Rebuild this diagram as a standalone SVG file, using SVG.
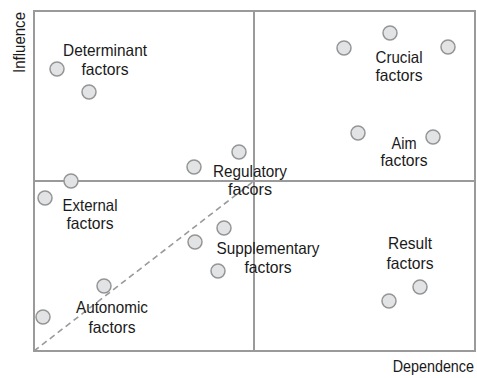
<svg xmlns="http://www.w3.org/2000/svg" width="477" height="378" viewBox="0 0 477 378">
<style>
.frame{fill:none;stroke:#9a9a9a;stroke-width:2}
.dash{fill:none;stroke:#9a9a9a;stroke-width:1.6;stroke-dasharray:6,4}
.pt{fill:#e2e3e5;stroke:#959595;stroke-width:1.5}
text{font-family:"Liberation Sans",Arial,sans-serif;font-size:16.5px;fill:#1a1a1a;text-anchor:middle}
</style>
<rect width="477" height="378" fill="#fff"/>
<g id="axes">
<rect class="frame" x="34" y="11" width="441" height="340"/>
<line class="frame" x1="254" y1="11" x2="254" y2="351"/>
<line class="frame" x1="34" y1="181" x2="475" y2="181"/>
<text transform="translate(474,372) scale(0.87,1)" style="text-anchor:end">Dependence</text>
<text transform="translate(25,73) rotate(-90)" style="text-anchor:start" textLength="61" lengthAdjust="spacingAndGlyphs">Influence</text>
</g>
<g id="connectors">
<line class="dash" x1="34" y1="351" x2="254" y2="181"/>
</g>
<g id="determinant">
<circle class="pt" cx="57" cy="69" r="7"/>
<circle class="pt" cx="89" cy="92" r="7"/>
<text x="105" y="56" textLength="84" lengthAdjust="spacingAndGlyphs">Determinant</text>
<text x="105" y="75" textLength="47" lengthAdjust="spacingAndGlyphs">factors</text>
</g>
<g id="crucial">
<circle class="pt" cx="344" cy="48" r="7"/>
<circle class="pt" cx="390" cy="33" r="7"/>
<circle class="pt" cx="448" cy="47" r="7"/>
<text x="399" y="63" textLength="47" lengthAdjust="spacingAndGlyphs">Crucial</text>
<text x="399" y="81" textLength="47" lengthAdjust="spacingAndGlyphs">factors</text>
</g>
<g id="aim">
<circle class="pt" cx="358" cy="133" r="7"/>
<circle class="pt" cx="433" cy="137" r="7"/>
<text x="404" y="149" textLength="25" lengthAdjust="spacingAndGlyphs">Aim</text>
<text x="404" y="166" textLength="47" lengthAdjust="spacingAndGlyphs">factors</text>
</g>
<g id="regulatory">
<circle class="pt" cx="194" cy="167" r="7"/>
<circle class="pt" cx="239" cy="152" r="7"/>
<text x="250" y="177" textLength="74" lengthAdjust="spacingAndGlyphs">Regulatory</text>
<text x="250" y="195" textLength="44" lengthAdjust="spacingAndGlyphs">facors</text>
</g>
<g id="external">
<circle class="pt" cx="71" cy="181" r="7"/>
<circle class="pt" cx="45" cy="198" r="7"/>
<text x="90" y="211" textLength="55" lengthAdjust="spacingAndGlyphs">External</text>
<text x="90" y="229" textLength="47" lengthAdjust="spacingAndGlyphs">factors</text>
</g>
<g id="supplementary">
<circle class="pt" cx="224" cy="228" r="7"/>
<circle class="pt" cx="195" cy="242" r="7"/>
<circle class="pt" cx="218" cy="271" r="7"/>
<text x="268" y="254" textLength="103" lengthAdjust="spacingAndGlyphs">Supplementary</text>
<text x="268" y="273" textLength="47" lengthAdjust="spacingAndGlyphs">factors</text>
</g>
<g id="autonomic">
<circle class="pt" cx="104" cy="286" r="7"/>
<circle class="pt" cx="43" cy="317" r="7"/>
<text x="112" y="313" textLength="72" lengthAdjust="spacingAndGlyphs">Autonomic</text>
<text x="112" y="333" textLength="47" lengthAdjust="spacingAndGlyphs">factors</text>
</g>
<g id="result">
<circle class="pt" cx="389" cy="301" r="7"/>
<circle class="pt" cx="420" cy="287" r="7"/>
<text x="410" y="249" textLength="44" lengthAdjust="spacingAndGlyphs">Result</text>
<text x="410" y="269" textLength="47" lengthAdjust="spacingAndGlyphs">factors</text>
</g>
</svg>
